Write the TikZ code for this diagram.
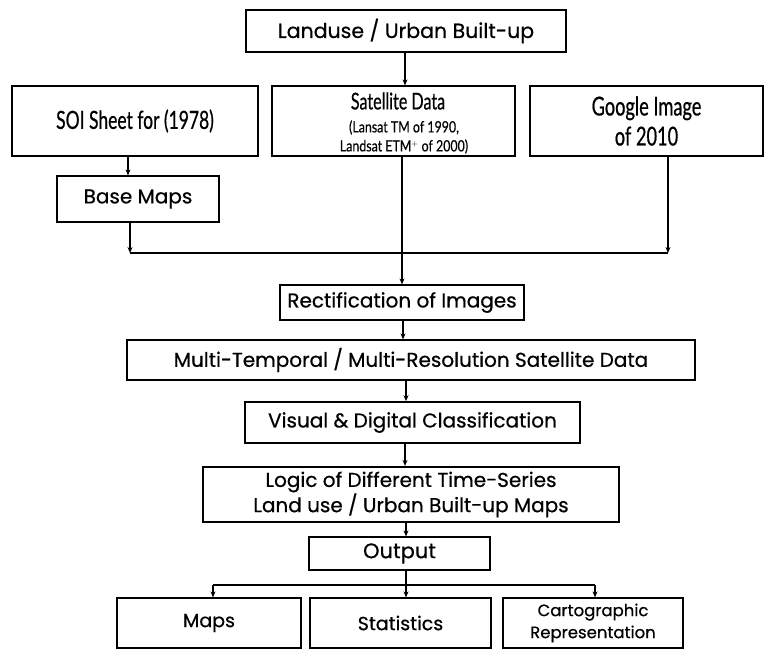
\documentclass[tikz,border=0pt]{standalone}
\usepackage{fontspec}
\setmainfont[FakeBold=0.6]{Poppins}
\newfontfamily\condfont[FakeStretch=0.7,FakeBold=0.6]{Lato}
\newfontfamily\smallcond[FakeStretch=0.8,FakeBold=0.4]{Lato}
\usetikzlibrary{arrows.meta}
\tikzset{
  box/.style={draw, line width=1.2pt, inner sep=0pt, align=center, font=\fontsize{20}{24}\selectfont},
  thickbox/.style={box, line width=2.2pt},
  arr/.style={line width=1.1pt, -{Stealth[length=6pt,width=5pt]}},
  ln/.style={line width=1.1pt}
}
\begin{document}
\begin{tikzpicture}[x=1pt,y=-1pt]
\useasboundingbox (0,0) rectangle (765,649);
\node[thickbox, minimum width=320pt, minimum height=42pt, font=\fontsize{20.5}{24}\selectfont] (top) at (406,31) {Landuse / Urban Built-up};
\node[box, minimum width=246pt, minimum height=70pt, font=\condfont\fontsize{25}{28}\selectfont] (soi) at (135,121) {SOI Sheet for (1978)};
\node[box, minimum width=243pt, minimum height=70pt] (sat) at (393.5,121) {};
\node[font=\condfont\fontsize{23}{26}\selectfont] (satt) at (398,101) {Satellite Data};
\node[align=center, font=\smallcond\fontsize{15.5}{19}\selectfont] (sats) at (404,137) {(Lansat TM of 1990,\\ Landsat ETM$^{\scriptscriptstyle +}$ of 2000)};
\node[box, minimum width=233pt, minimum height=70pt, font=\condfont\fontsize{26}{30}\selectfont] (goo) at (646.5,121) {Google Image\\of 2010};
\node[box, minimum width=162pt, minimum height=46pt] (base) at (138,199) {Base Maps};
\node[box, minimum width=244pt, minimum height=35pt] (rect) at (402,302.5) {Rectification of Images};
\node[box, minimum width=568pt, minimum height=40pt] (multi) at (411,360) {Multi-Temporal / Multi-Resolution Satellite Data};
\node[thickbox, line width=1.6pt, minimum width=335pt, minimum height=41pt] (vis) at (412.5,422.5) {Visual \& Digital Classification};
\node[thickbox, minimum width=416pt, minimum height=55pt, font=\fontsize{20}{24}\selectfont] (logic) at (411,494.5) {Logic of Different Time-Series\\Land use / Urban Built-up Maps};
\node[box, minimum width=181pt, minimum height=33pt, font=\fontsize{21}{24}\selectfont] (out) at (399.5,553.5) {Output};
\node[box, minimum width=184pt, minimum height=50pt, font=\fontsize{19}{24}\selectfont] (maps) at (209,623) {Maps};
\node[box, minimum width=181pt, minimum height=50pt, font=\fontsize{19}{24}\selectfont] (stats) at (400.5,623) {Statistics};
\node[box, minimum width=180pt, minimum height=50pt, font=\fontsize{16.5}{22}\selectfont] (carto) at (593,623) {Cartographic\\Representation};
% connectors
\coordinate (j1) at (130,253);
\coordinate (j2) at (668,253);
\coordinate (b1) at (213,585);
\coordinate (b2) at (595,585);
\draw[arr] (top.south -| 405,0) -- (405,0 |- sat.north);
\draw[arr] (soi.south -| 128,0) -- (128,0 |- base.north);
\draw[arr] (base.south -| 130,0) -- (j1);
\draw[ln] (j1) -- (j2);
\draw[arr] (goo.south -| 668,0) -- (j2);
\draw[arr] (sat.south -| 402,0) -- (402,0 |- rect.north);
\draw[arr] (rect.south -| 403,0) -- (403,0 |- multi.north);
\draw[arr] (multi.south -| 406,0) -- (406,0 |- vis.north);
\draw[arr] (vis.south -| 405,0) -- (405,0 |- logic.north);
\draw[arr] (logic.south -| 406,0) -- (406,0 |- out.north);
\draw[arr] (out.south -| 406,0) -- (406,0 |- stats.north);
\draw[ln] (b1) -- (b2);
\draw[arr] (b1) -- (b1 |- maps.north);
\draw[arr] (b2) -- (b2 |- carto.north);
\end{tikzpicture}
\end{document}
